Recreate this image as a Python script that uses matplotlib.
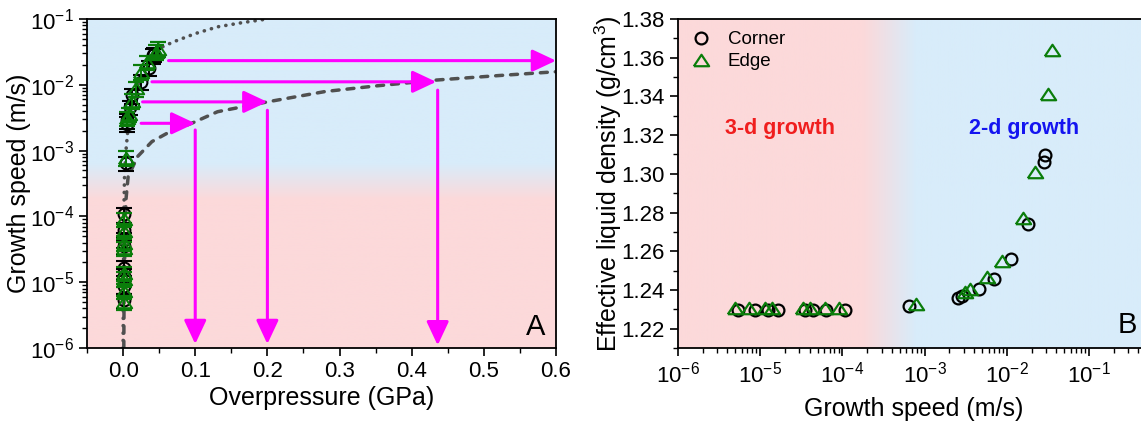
import numpy as np
import matplotlib
matplotlib.use("Agg")
import matplotlib.pyplot as plt
from matplotlib.colors import LinearSegmentedColormap
from matplotlib.ticker import LogLocator, MultipleLocator, NullFormatter

plt.rcParams["font.family"] = ["Liberation Sans", "DejaVu Sans"]
plt.rcParams["mathtext.fontset"] = "custom"
plt.rcParams["mathtext.rm"] = "Liberation Sans"
plt.rcParams["mathtext.it"] = "Liberation Sans:italic"
plt.rcParams["mathtext.default"] = "regular"

# Data

# growth speed (m/s) and effective liquid density (g/cm3), panel B
corner_speed = [5.3e-6, 8.7e-6, 1.26e-5, 1.66e-5, 3.5e-5, 4.4e-5, 6.3e-5, 1.07e-4,
                6.5e-4, 2.57e-3, 2.88e-3, 4.6e-3, 6.9e-3, 1.12e-2, 1.83e-2, 2.8e-2, 2.94e-2]
corner_density = [1.2295, 1.2295, 1.2295, 1.2295, 1.2295, 1.2295, 1.2295, 1.2298,
                  1.2316, 1.2359, 1.2367, 1.2407, 1.2459, 1.2562, 1.2743, 1.3059, 1.3097]
edge_speed = [5.0e-6, 7.4e-6, 1.13e-5, 1.38e-5, 3.3e-5, 4.0e-5, 6.1e-5, 9.1e-5,
              7.8e-4, 3.1e-3, 3.6e-3, 5.7e-3, 8.8e-3, 1.58e-2, 2.23e-2, 3.2e-2, 3.55e-2]
edge_density = [1.2305, 1.2305, 1.2305, 1.2305, 1.2305, 1.2305, 1.2305, 1.2308,
                1.2329, 1.2390, 1.2405, 1.2467, 1.2548, 1.2774, 1.3010, 1.3410, 1.3640]

# overpressure (GPa) of the same points, panel A
corner_pressure = [0.001, 0.001, 0.001, 0.001, 0.001, 0.001, 0.001, 0.001,
                   0.004, 0.006, 0.006, 0.009, 0.013, 0.025, 0.036, 0.041, 0.043]
edge_pressure = [0.001, 0.001, 0.001, 0.001, 0.001, 0.001, 0.001, 0.001,
                 0.004, 0.006, 0.008, 0.012, 0.018, 0.025, 0.033, 0.045, 0.048]
rel_err = 0.25

# guide curves in panel A
dotted_p = [0.0, 0.0005, 0.001, 0.002, 0.004, 0.008, 0.015, 0.025, 0.035, 0.048,
            0.07, 0.1, 0.131, 0.165, 0.2]
dotted_v = [1e-6, 1e-5, 1e-4, 4e-4, 1e-3, 3e-3, 6e-3, 1.2e-2, 2e-2, 3.5e-2,
            4.5e-2, 6e-2, 7.6e-2, 8.8e-2, 1e-1]
dashed_p = [0.001, 0.0015, 0.004, 0.007, 0.02, 0.04, 0.065, 0.095, 0.131, 0.2,
            0.28, 0.35, 0.434, 0.52, 0.6]
dashed_v = [1e-6, 1e-5, 1.8e-4, 4e-4, 8.1e-4, 1.37e-3, 1.94e-3, 2.6e-3, 3.9e-3, 5.5e-3,
            7.9e-3, 9.6e-3, 1.18e-2, 1.38e-2, 1.58e-2]

# magenta arrows: (start, tip)
h_arrows = [((0.025, 2.6e-3), (0.1, 2.6e-3)),
            ((0.027, 5.5e-3), (0.2, 5.5e-3)),
            ((0.040, 1.11e-2), (0.434, 1.11e-2)),
            ((0.063, 2.33e-2), (0.6, 2.33e-2))]
v_arrows = [((0.1, 2.06e-3), (0.1, 1.15e-6)),
            ((0.2, 4.1e-3), (0.2, 1.15e-6)),
            ((0.436, 8.3e-3), (0.436, 1.1e-6))]

PINK = "#fcd9da"
BLUE = "#d8ecfa"
GREEN = "#0a7d0a"
MAGENTA = "#ff00ff"
CURVE = "#505050"

W, H = 1141, 421
fig = plt.figure(figsize=(W / 100, H / 100), dpi=100)


def box(left, right, top, bottom):
    return [left / W, (H - bottom) / H, (right - left) / W, (bottom - top) / H]


def background(rect, lo, hi, vertical):
    bg = fig.add_axes(rect, zorder=0)
    cmap = LinearSegmentedColormap.from_list(
        "bg", [(0, PINK), (lo, PINK), (hi, BLUE), (1, BLUE)])
    grad = np.linspace(0, 1, 512)
    img = grad.reshape(-1, 1) if vertical else grad.reshape(1, -1)
    bg.imshow(img, cmap=cmap, aspect="auto", origin="lower", extent=[0, 1, 0, 1])
    bg.set_axis_off()


tri = [(-1, -0.75), (1, -0.75), (0, 0.75), (-1, -0.75)]


def style_axes(ax):
    for s in ax.spines.values():
        s.set_linewidth(1.3)
    ax.tick_params(which="major", direction="out", length=6, width=1.2,
                   labelsize=16, top=False, right=False)
    ax.tick_params(which="minor", direction="out", length=3.5, width=1.0,
                   top=False, right=False)


# Panel A
rectA = box(87, 556, 19, 348)
background(rectA, 0.45, 0.56, vertical=True)
axA = fig.add_axes(rectA, zorder=1)
axA.patch.set_alpha(0)

axA.plot(dotted_p, dotted_v, color=CURVE, lw=2.6, dashes=(0.05, 2.0),
         dash_capstyle="round", zorder=2)
axA.plot(dashed_p, dashed_v, color=CURVE, lw=2.5, dashes=(2.0, 2.3),
         dash_capstyle="round", zorder=2)

cs = np.array(corner_speed)
es = np.array(edge_speed)
axA.errorbar(corner_pressure, cs, yerr=rel_err * cs, fmt="o", ms=8.5, mfc="none",
             mec="black", mew=1.5, ecolor="black", elinewidth=1.4, capsize=6,
             capthick=1.6, zorder=3)
axA.errorbar(edge_pressure, es, yerr=rel_err * es, fmt="none", ecolor=GREEN,
             elinewidth=1.4, capsize=6, capthick=1.6, zorder=4)
axA.plot(edge_pressure, es, linestyle="none", marker=tri, ms=11, mfc="none",
         mec=GREEN, mew=1.5, zorder=4)

for (x0, y0), (x1, y1) in h_arrows + v_arrows:
    axA.annotate("", xy=(x1, y1), xytext=(x0, y0),
                 arrowprops=dict(arrowstyle="-|>,head_length=1.45,head_width=0.68",
                                 color=MAGENTA, lw=2.2, mutation_scale=10,
                                 shrinkA=0, shrinkB=0), zorder=5)

axA.set_yscale("log")
axA.set_xlim(-0.05, 0.6)
axA.set_ylim(1e-6, 1e-1)
axA.xaxis.set_major_locator(MultipleLocator(0.1))
axA.xaxis.set_minor_locator(MultipleLocator(0.05))
axA.xaxis.set_major_formatter(plt.FuncFormatter(lambda v, p: f"{v:.1f}"))
axA.yaxis.set_major_locator(LogLocator(base=10, numticks=10))
axA.yaxis.set_minor_locator(LogLocator(base=10, subs=np.arange(2, 10), numticks=10))
axA.yaxis.set_minor_formatter(NullFormatter())
style_axes(axA)
axA.set_xlabel("Overpressure (GPa)", fontsize=18, labelpad=3)
axA.set_ylabel("Growth speed (m/s)", fontsize=18, labelpad=-1)
axA.text(0.957, 0.065, "A", transform=axA.transAxes, fontsize=21,
         ha="center", va="center")

# Panel B
rectB = box(678, 1150, 19, 348)
background(rectB, 0.392, 0.505, vertical=False)
axB = fig.add_axes(rectB, zorder=1)
axB.patch.set_alpha(0)

axB.plot(corner_speed, corner_density, linestyle="none", marker="o", ms=8.5,
         mfc="none", mec="black", mew=1.6, label="Corner", zorder=3)
axB.plot(edge_speed, edge_density, linestyle="none", marker=tri, ms=11,
         mfc="none", mec=GREEN, mew=1.6, label="Edge", zorder=4)

axB.set_xscale("log")
axB.set_xlim(1e-6, 10 ** -0.258)
axB.set_ylim(1.21, 1.38)
axB.xaxis.set_major_locator(LogLocator(base=10, numticks=10))
axB.xaxis.set_minor_locator(LogLocator(base=10, subs=np.arange(2, 10), numticks=10))
axB.xaxis.set_minor_formatter(NullFormatter())
axB.yaxis.set_major_locator(MultipleLocator(0.02))
axB.yaxis.set_minor_locator(MultipleLocator(0.01))
axB.yaxis.set_major_formatter(plt.FuncFormatter(lambda v, p: f"{v:.2f}"))
style_axes(axB)
axB.set_xlabel("Growth speed (m/s)", fontsize=18, labelpad=7)
axB.set_ylabel("Effective liquid density (g/cm$^{3}$)", fontsize=18, labelpad=-2)

axB.text(10 ** -5.43, 1.3234, "3-d growth", color="#f01e1e", fontsize=15.5,
         fontweight="bold", ha="left", va="center")
axB.text(10 ** -2.46, 1.3234, "2-d growth", color="#1414f0", fontsize=15.5,
         fontweight="bold", ha="left", va="center")
axB.text(0.951, 0.07, "B", transform=axB.transAxes, fontsize=21,
         ha="center", va="center")

axB.legend(loc="upper left", frameon=False, fontsize=13.5, handlelength=1.2,
           handletextpad=0.8, labelspacing=0.25, borderaxespad=0.25,
           bbox_to_anchor=(0.0, 1.0))

fig.savefig("out.png", dpi=100)
